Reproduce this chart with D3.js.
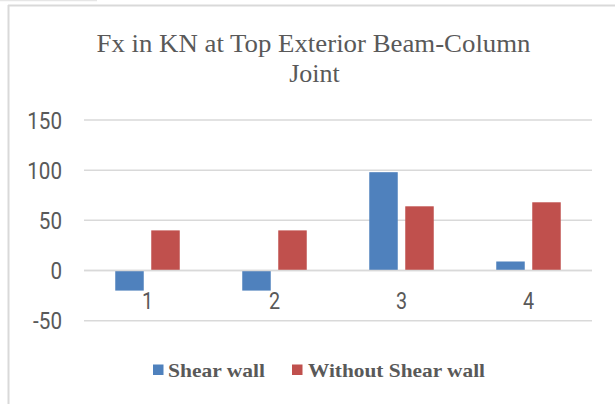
<!DOCTYPE html>
<html>
<head>
<meta charset="utf-8">
<script src="https://cdn.jsdelivr.net/npm/d3@7"></script>
<style>
  html, body { margin: 0; padding: 0; background: #fff; }
  svg { display: block; }
</style>
</head>
<body>
<div id="chart"></div>
<script>
// Horizontal force at the top exterior beam-column joint, per case
const categories = ["1", "2", "3", "4"];
const shearWall = [-20, -20, 98, 9];
const withoutShearWall = [40, 40, 64, 68];
const seriesNames = ["Shear wall", "Without Shear wall"];
const seriesColors = ["#4f81bd", "#c0504d"];
const yTicks = [-50, 0, 50, 100, 150];

const W = 615, H = 404;
const svg = d3.select("#chart").append("svg").attr("width", W).attr("height", H);

// chart frame (top and left edges visible)
svg.append("line").attr("x1", 0).attr("x2", 97).attr("y1", 0.5).attr("y2", 0.5)
  .attr("stroke", "#e6e6e6").attr("stroke-width", 1.5);
svg.append("line").attr("x1", 8).attr("x2", 615).attr("y1", 5.5).attr("y2", 5.5)
  .attr("stroke", "#d9d9d9").attr("stroke-width", 2);
svg.append("line").attr("x1", 8.5).attr("x2", 8.5).attr("y1", 5).attr("y2", H)
  .attr("stroke", "#d9d9d9").attr("stroke-width", 2);

const plot = { left: 84, right: 592, top: 120, bottom: 320.7 };

const x = d3.scaleBand().domain(categories).range([plot.left, plot.right]).paddingInner(0).paddingOuter(0);
const y = d3.scaleLinear().domain([-50, 150]).range([plot.bottom, plot.top]);

const labelFont = "Roboto, 'Open Sans', sans-serif";

// gridlines
svg.append("g").selectAll("line").data(yTicks).join("line")
  .attr("x1", plot.left).attr("x2", plot.right)
  .attr("y1", d => y(d)).attr("y2", d => y(d))
  .attr("stroke", "#d9d9d9").attr("stroke-width", 1.5);

// y-axis labels (slightly condensed)
svg.append("g").selectAll("text").data(yTicks).join("text")
  .attr("transform", d => `translate(62,${y(d)}) scale(0.86,1)`)
  .attr("text-anchor", "end")
  .attr("dy", "0.36em")
  .attr("fill", "#595959")
  .attr("font-family", labelFont)
  .attr("font-size", 24)
  .text(d => String(d));

// bars
const barW = 28.5, innerGap = 7.5;
const series = [shearWall, withoutShearWall];
series.forEach((vals, si) => {
  svg.append("g").selectAll("rect").data(vals).join("rect")
    .attr("x", (d, i) => x(categories[i]) + x.bandwidth() / 2 + (si === 0 ? -innerGap / 2 - barW : innerGap / 2))
    .attr("y", d => Math.min(y(d), y(0)))
    .attr("width", barW)
    .attr("height", d => Math.abs(y(d) - y(0)))
    .attr("fill", seriesColors[si]);
});

// zero line drawn over the bars
svg.append("line").attr("x1", plot.left).attr("x2", plot.right)
  .attr("y1", y(0)).attr("y2", y(0)).attr("stroke", "#d9d9d9").attr("stroke-width", 1.5);

// category labels
svg.append("g").selectAll("text").data(categories).join("text")
  .attr("transform", d => `translate(${x(d) + x.bandwidth() / 2},${y(0) + 38.5}) scale(0.86,1)`)
  .attr("text-anchor", "middle")
  .attr("fill", "#595959")
  .attr("font-family", labelFont)
  .attr("font-size", 23)
  .text(d => d);

// title
const title = svg.append("text").attr("text-anchor", "middle")
  .attr("fill", "#595959")
  .attr("font-family", "'Liberation Serif', 'Times New Roman', serif")
  .attr("font-size", 26);
title.append("tspan").attr("x", 313.5).attr("y", 51.7)
  .attr("textLength", 434).attr("lengthAdjust", "spacingAndGlyphs")
  .text("Fx in KN at Top Exterior Beam-Column");
title.append("tspan").attr("x", 314.5).attr("y", 82)
  .text("Joint");

// legend
const legend = svg.append("g");
const legendItems = [
  { name: seriesNames[0], color: seriesColors[0], sx: 153, tx: 168, tw: 97 },
  { name: seriesNames[1], color: seriesColors[1], sx: 292, tx: 308, tw: 177 }
];
legendItems.forEach(it => {
  legend.append("rect").attr("x", it.sx).attr("y", 364.5).attr("width", 10.5).attr("height", 10.5)
    .attr("fill", it.color);
  legend.append("text").attr("x", it.tx).attr("y", 377)
    .attr("fill", "#595959")
    .attr("font-family", "'Liberation Serif', 'Times New Roman', serif")
    .attr("font-weight", "bold")
    .attr("font-size", 19)
    .attr("textLength", it.tw).attr("lengthAdjust", "spacingAndGlyphs")
    .text(it.name);
});
</script>
</body>
</html>
